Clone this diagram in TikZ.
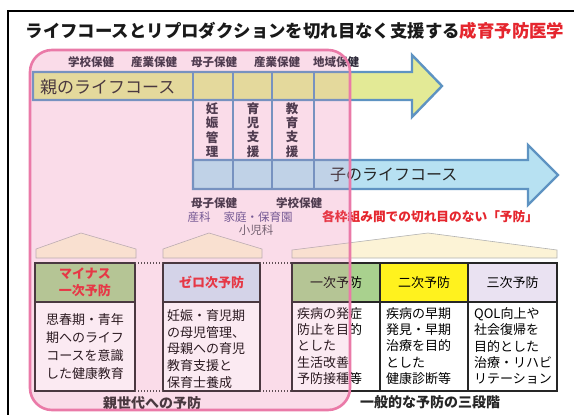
\documentclass[tikz,border=0pt]{standalone}
\usepackage{fontspec}
\setmainfont{Noto Sans CJK JP}
\definecolor{titlered}{HTML}{E5262E}
\definecolor{pinkbase}{HTML}{FDEEF4}
\definecolor{pinkov}{HTML}{EE8FB8}
\definecolor{pinkline}{HTML}{EA7AA8}
\definecolor{arrowline}{HTML}{5E93C2}
\definecolor{parentfill}{HTML}{E3EA96}
\definecolor{childfill}{HTML}{B7E1F2}
\definecolor{hdrgreen}{HTML}{A9D18E}
\definecolor{hdrblue}{HTML}{CFE3F3}
\definecolor{hdryellow}{HTML}{FFF21E}
\definecolor{hdrlav}{HTML}{EAE2F2}
\definecolor{roofcream}{HTML}{FCF3D6}
\definecolor{darktxt}{HTML}{2E2A3A}
\definecolor{purtxt}{HTML}{5A4C8C}
\tikzset{
  toplbl/.style={font=\fontsize{11.5}{12}\selectfont\bfseries, text=darktxt, inner sep=0pt},
  arrowshape/.style={draw=arrowline, line width=2.4pt, line join=miter},
  colline/.style={draw=arrowline, line width=1.6pt},
  vtext/.style={font=\fontsize{12.5}{14.2}\selectfont\bfseries, text=darktxt, align=center, inner sep=0pt},
  roofshape/.style={fill=roofcream, draw=gray!60, line width=0.6pt},
  boxline/.style={draw=black!85, line width=1.6pt},
  hdrtext/.style={font=\fontsize{13}{17}\selectfont, align=center, inner sep=0pt},
  redhdr/.style={font=\fontsize{13}{17}\selectfont\bfseries, text=titlered, align=center, inner sep=0pt},
  bodytext/.style={font=\fontsize{13}{#1}\selectfont, align=left, inner sep=0pt, anchor=west},
  dotline/.style={draw=black!75, line width=1.3pt, dash pattern=on 1.3pt off 1.7pt},
  botlbl/.style={font=\fontsize{14}{14}\selectfont\bfseries, text=black!85, inner sep=0pt}
}
\begin{document}
\begin{tikzpicture}[x=1pt,y=-1pt]
\useasboundingbox (0,0) rectangle (574,415);
\fill[white] (0,0) rectangle (574,415);
\coordinate (fbl) at (8,416);
\coordinate (ftl) at (8,11);
\coordinate (ftr) at (575,11);
\draw[black, line width=1.2pt] (fbl) -- (ftl) -- (ftr);

% pink base
\fill[pinkbase, rounded corners=22pt] (30,50) rectangle (350,410);

% title
\node[inner sep=0pt, font=\fontsize{17.4}{18}\selectfont\bfseries, text=black!90] (title) at (295,31)
  {ライフコースとリプロダクションを切れ目なく支援する\textcolor{titlered}{成育予防医学}};

% top labels
\node[toplbl] (t1) at (91,62) {学校保健};
\node[toplbl] (t2) at (154,62) {産業保健};
\node[toplbl] (t3) at (214,62) {母子保健};
\node[toplbl] (t4) at (277,62) {産業保健};
\node[toplbl] (t5) at (336,62) {地域保健};

% parent arrow
\draw[arrowshape, fill=parentfill] (33,72) -- (412,72) -- (412,55) -- (442,86) -- (412,117) -- (412,100) -- (33,100) -- cycle;
\node[inner sep=0pt, anchor=west, font=\fontsize{17}{17}\selectfont, text=black!85] (parent) at (40,87) {親のライフコース};

% child arrow
\draw[arrowshape, fill=childfill] (193,160) -- (528,160) -- (528,145) -- (558,175) -- (528,205) -- (528,189) -- (193,189) -- cycle;
\node[inner sep=0pt, anchor=west, font=\fontsize{16}{16}\selectfont, text=black!85] (child) at (330,175) {子のライフコース};

% column lines
\draw[colline] (193,72) -- (193,160);
\draw[colline] (233,72) -- (233,189);
\draw[colline] (272,72) -- (272,189);
\draw[colline] (314,72) -- (314,189);

% vertical texts
\node[vtext] (c1) at (212,130) {妊\\娠\\管\\理};
\node[vtext] (c2) at (253,130) {育\\児\\支\\援};
\node[vtext] (c3) at (292,130) {教\\育\\支\\援};

% labels under child arrow
\node[toplbl] (m1) at (214,203) {母子保健};
\node[toplbl] (m2) at (299,203) {学校保健};
\node[inner sep=0pt, font=\fontsize{11.5}{12}\selectfont, text=purtxt] (m3) at (199,217) {産科};
\node[inner sep=0pt, font=\fontsize{11.5}{12}\selectfont, text=purtxt] (m4) at (258,217) {家庭・保育園};
\node[inner sep=0pt, font=\fontsize{11.5}{12}\selectfont, text=darktxt!80] (m5) at (256,230) {小児科};
\node[inner sep=0pt, anchor=west, font=\fontsize{12.7}{13}\selectfont\bfseries, text=titlered] (seam) at (322,217) {各枠組み間での切れ目のない「予防」};

% roofs
\draw[roofshape] (36,258) -- (36,249) -- (81,233) -- (136,249) -- (136,258) -- cycle;
\draw[roofshape] (163,258) -- (163,249) -- (209,233) -- (262,249) -- (262,258) -- cycle;
\draw[roofshape] (292,258) -- (292,250) -- (428,233) -- (557,250) -- (557,258) -- cycle;

% boxes
\draw[boxline, fill=hdrgreen] (35,263) rectangle (135,302);
\draw[boxline, fill=white] (35,302) rectangle (135,391);
\draw[boxline, fill=hdrblue] (163,263) rectangle (260,302);
\draw[boxline, fill=white] (163,302) rectangle (260,391);
\draw[boxline, fill=hdrgreen] (292,263) rectangle (380,302);
\draw[boxline, fill=hdryellow] (380,263) rectangle (468,302);
\draw[boxline, fill=hdrlav] (468,263) rectangle (557,302);
\draw[boxline, fill=white] (292,302) rectangle (380,391);
\draw[boxline, fill=white] (380,302) rectangle (468,391);
\draw[boxline, fill=white] (468,302) rectangle (557,391);

% dotted connectors
\coordinate (d1a) at (135,263); \coordinate (d1b) at (163,263);
\coordinate (d2a) at (260,263); \coordinate (d2b) at (292,263);
\coordinate (d3a) at (135,391); \coordinate (d3b) at (163,391);
\coordinate (d4a) at (260,391); \coordinate (d4b) at (292,391);
\draw[dotline] (d1a) -- (d1b);
\draw[dotline] (d2a) -- (d2b);
\draw[dotline] (d3a) -- (d3b);
\draw[dotline] (d4a) -- (d4b);

% headers
\node[redhdr] (h1) at (85,282.5) {マイナス\\一次予防};
\node[redhdr] (h2) at (211.5,282.5) {ゼロ次予防};
\node[hdrtext] (h3) at (336,282.5) {一次予防};
\node[hdrtext] (h4) at (424,282.5) {二次予防};
\node[hdrtext] (h5) at (512.5,282.5) {三次予防};

% bodies
\node[bodytext=18, align=center, anchor=center] (b1) at (85,347) {思春期・青年\\期へのライフ\\コースを意識\\した健康教育};
\node[bodytext=16.8] (b2) at (167,349) {妊娠・育児期\\の母児管理、\\母親への育児\\教育支援と\\保育士養成};
\node[bodytext=16.3] (b3) at (297,346) {疾病の発症\\防止を目的\\とした\\生活改善\\予防接種等};
\node[bodytext=16.3] (b4) at (386,346) {疾病の早期\\発見・早期\\治療を目的\\とした\\健康診断等};
\node[bodytext=16.3] (b5) at (474,346) {QOL向上や\\社会復帰を\\目的とした\\治療・リハビ\\リテーション};

% bottom labels
\node[botlbl] (l1) at (152,403) {親世代への予防};
\node[botlbl] (l2) at (430,402) {一般的な予防の三段階};

% pink overlay and border
\fill[pinkov, opacity=0.18, rounded corners=22pt] (30,50) rectangle (350,410);
\draw[pinkline, line width=2.6pt, rounded corners=22pt] (30,50) rectangle (350,410);
\end{tikzpicture}
\end{document}
